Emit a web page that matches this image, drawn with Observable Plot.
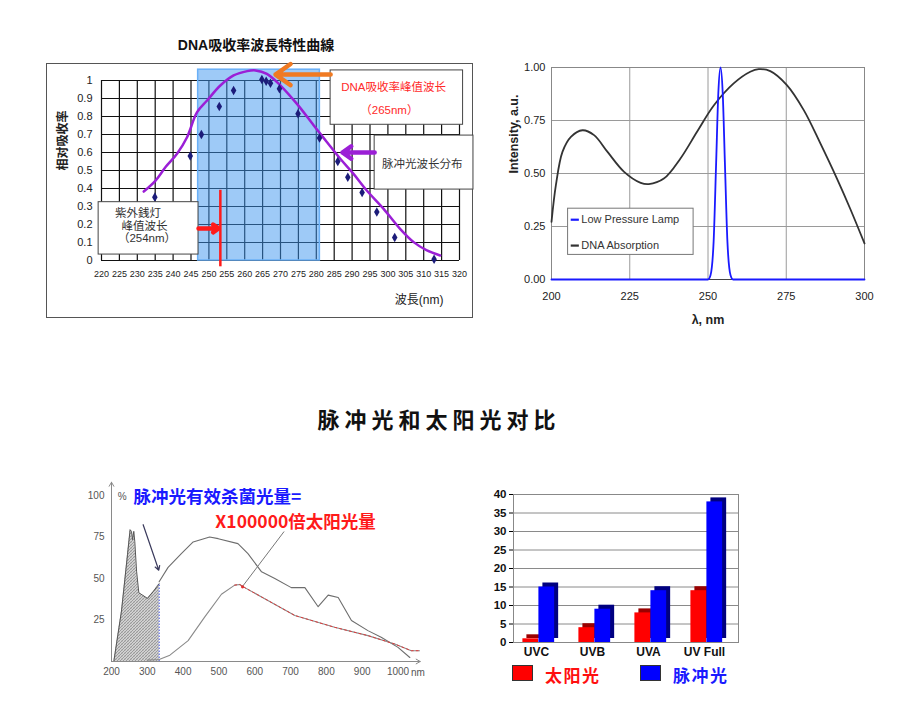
<!DOCTYPE html>
<html><head><meta charset="utf-8">
<script src="https://cdn.jsdelivr.net/npm/d3@7"></script>
<script src="https://cdn.jsdelivr.net/npm/@observablehq/plot@0.6"></script>
<style>
body{margin:0;background:#fff;}
#root{position:relative;width:899px;height:710px;overflow:hidden;font-family:"Liberation Sans","Noto Sans CJK SC",sans-serif;}
.t{position:absolute;white-space:nowrap;line-height:1;}
</style></head><body><div id="root"></div>
<script>
// ===== Chart 1: DNA吸收率波長特性曲線 =====
const c1XTicks = [220,225,230,235,240,245,250,255,260,265,270,275,280,285,290,295,300,305,310,315,320];
const c1YTicks = [0,0.1,0.2,0.3,0.4,0.5,0.6,0.7,0.8,0.9,1];
const c1CurveX = [231.8,235.1,237.9,241.1,243.9,246.7,249.5,253.2,256.9,260.7,263,266.2,270,274.6,279.3,283,286.7,290.4,294.1,298.8,303.4,307.2,310.9,314.6];
const c1CurveY = [0.383,0.444,0.519,0.593,0.685,0.824,0.889,0.972,1.028,1.052,1.056,1.037,0.972,0.870,0.750,0.657,0.565,0.481,0.389,0.287,0.176,0.102,0.056,0.028];
const c1DotX = [234.9,244.8,247.9,252.9,256.9,264.8,266.0,267.2,269.7,274.9,280.9,286.0,288.8,292.8,296.9,301.9,312.9];
const c1DotY = [0.352,0.581,0.700,0.856,0.944,1.006,0.996,0.985,0.954,0.815,0.681,0.550,0.463,0.378,0.269,0.128,0.007];
const c1BandX = [247, 281];
const c1BandTop = 1.06;
const c1LampPeak = 253.2;
const c1BoxX1 = [219.2, 284.0, 296.3];
const c1BoxX2 = [247.1, 321.0, 323.9];
const c1BoxY1 = [0.033, 0.754, 0.394];
const c1BoxY2 = [0.324, 1.056, 0.694];
const c1NoteText = ["紫外銭灯", "峰值波长", "（254nm）", "DNA吸收率峰值波长", "（265nm）", "脉冲光波长分布"];
const c1NoteX = [230.2, 232, 232.7, 301.6, 300.4, 309.6];
const c1NoteY = [0.26, 0.19, 0.122, 0.96, 0.833, 0.537];
const c1NoteColor = ["#333", "#333", "#333", "#ff2a2a", "#ff2a2a", "#333"];
const c1ArrowX1 = [284.0, 296.3, 247.1];
const c1ArrowX2 = [268.6, 287.3, 252.7];
const c1ArrowY = [1.033, 0.6, 0.178];
const c1ArrowColor = ["#f07a22", "#9b1fd6", "#ff1a1a"];

// ===== Chart 2: Low pressure lamp vs DNA absorption =====
const c2XTicks = [200,225,250,275,300];
const c2YTicks = [0,0.25,0.5,0.75,1];
const dnaX = [200,201.4,203.5,206.2,209.9,213.6,217.9,223.2,228.5,231.1,235.9,241.2,246.5,251.9,258.2,263.5,266.2,269.9,275.2,280.6,285.9,291.2,295.4,300];
const dnaY = [0.272,0.445,0.602,0.673,0.704,0.681,0.602,0.508,0.456,0.450,0.476,0.571,0.697,0.822,0.925,0.980,0.992,0.983,0.917,0.799,0.642,0.476,0.335,0.170];
const lampX = [200,250,250.8,251.8,252.6,253.3,254,254.7,255.4,256.2,257.2,258,300];
const lampY = [0,0,0.02,0.18,0.55,0.88,1.0,0.88,0.55,0.18,0.02,0,0];
const c2LegendLabels = ["Low Pressure Lamp", "DNA Absorption"];
const c2LegendColors = ["#1a1aff", "#333333"];
const c2LegendY = [0.282, 0.160];
const c2LegendBox = {x1: 205.3, x2: 245.4, y1: 0.116, y2: 0.334};
const c2LegendLineX = [206.3, 208.9];

// ===== Chart 3: pulse light vs sunlight spectrum =====
const c3XTicks = [200,300,400,500,600,700,800,900,1000];
const c3YTicks = [25,50,75,100];
const pulseX = [200,206.5,227.9,244.7,252,255.8,258.6,262.3,265,270,276.3,286.5,300.5,316,333];
const pulseY = [0,0,30.4,64.4,79.4,78.4,73.4,78.4,72.4,54.4,41.4,40,38,42,46.8];
const sunUpperX = [333,358,395,428,474,498,553,581,619,656,702,740,777,805,833,870,916,953,1000,1033];
const sunUpperY = [48,56.7,65,72,75,74,71,65,54,50,44.5,44.5,33,40,38.5,24.7,18.6,14.6,8.5,2.4];
const sunLowerX = [300,333,363,414,460,507,544,558,572,619,712,823,916,991,1037,1060];
const sunLowerY = [0.8,1.2,3.8,12.6,26.7,40.5,46,46.4,44.5,38.9,27.7,20.6,15.6,10.5,6.5,6.5];

// ===== Chart 4: bar comparison =====
const c4Cats = ["UVC","UVB","UVA","UV Full"];
const c4Sun = [1,4,8,14];
const c4Pulse = [15,9,14,38];
const c4YTicks = [0,5,10,15,20,25,30,35,40];
const c4Series = ["太阳光","脉冲光"];

const root = document.getElementById("root");
function place(el, left, top) {
  el.style.position = "absolute"; el.style.left = left + "px"; el.style.top = top + "px";
  root.appendChild(el); return el;
}
function text(str, cx, cy, css, anchor) {
  const d = document.createElement("div");
  d.className = "t"; d.textContent = str;
  Object.assign(d.style, css);
  d.style.left = cx + "px"; d.style.top = cy + "px";
  d.style.transform = anchor === "start" ? "translate(0,-50%)" : "translate(-50%,-50%)";
  root.appendChild(d); return d;
}
const zip2 = (xs, ys) => xs.map((x, i) => ({x, y: ys[i]}));

// ---------- Chart 1 ----------
text("DNA吸收率波長特性曲線", 256, 45, {fontSize: "14px", fontWeight: "bold", fontFamily: "Liberation Sans, Noto Sans CJK JP, sans-serif", color: "#111"});
const c1Curve = zip2(c1CurveX, c1CurveY);
const c1Dots = zip2(c1DotX, c1DotY);
const c1Band = [{x1: c1BandX[0], x2: c1BandX[1], y1: 0, y2: c1BandTop}];
const c1Boxes = c1BoxX1.map((x1, i) => ({x1, x2: c1BoxX2[i], y1: c1BoxY1[i], y2: c1BoxY2[i]}));
const c1Notes = c1NoteText.map((t, i) => ({t, x: c1NoteX[i], y: c1NoteY[i], c: c1NoteColor[i]}));
const c1Arrows = c1ArrowX1.map((x1, i) => ({x1, x2: c1ArrowX2[i], y: c1ArrowY[i], c: c1ArrowColor[i]}));
const c1 = Plot.plot({
  width: 427, height: 255, marginLeft: 55, marginRight: 14, marginTop: 17, marginBottom: 58,
  style: {fontFamily: "Liberation Sans, Noto Sans CJK JP, sans-serif", background: "transparent", overflow: "visible"},
  x: {domain: [220, 320], axis: null},
  y: {domain: [0, 1], axis: null},
  color: {type: "identity"},
  marks: [
    Plot.ruleX(c1XTicks, {y1: 0, y2: 1, stroke: "#111", strokeWidth: 1.2}),
    Plot.ruleY(c1YTicks, {x1: 220, x2: 320, stroke: "#111", strokeWidth: 1.2}),
    Plot.rect(c1Band, {x1: "x1", x2: "x2", y1: "y1", y2: "y2", fill: "#3d95f0", fillOpacity: 0.5, stroke: "#6ab0f7", strokeWidth: 1.5}),
    Plot.line(c1Curve, {x: "x", y: "y", stroke: "#9b1fd6", strokeWidth: 2.5, curve: "catmull-rom"}),
    Plot.dot(c1Dots, {x: "x", y: "y", symbol: "diamond", fill: "#1c1c7a", r: 2.9}),
    Plot.rect(c1Boxes, {x1: "x1", x2: "x2", y1: "y1", y2: "y2", fill: "white", stroke: "#444", strokeWidth: 1}),
    Plot.ruleX([c1LampPeak], {y1: -0.035, y2: 0.39, stroke: "#ff1a1a", strokeWidth: 2.5}),
    Plot.arrow(c1Arrows, {x1: "x1", x2: "x2", y1: "y", y2: "y", stroke: "c", strokeWidth: 4.5, headLength: 10, headAngle: 70}),
    Plot.text(c1Notes, {x: "x", y: "y", text: "t", fill: "c", fontSize: 11.5}),
    Plot.axisX({ticks: c1XTicks, tickSize: 0, tickPadding: 10, fontSize: 9, fill: "#222"}),
    Plot.axisY({ticks: c1YTicks, tickSize: 0, tickPadding: 9, fontSize: 11, fill: "#222", tickFormat: d => String(d)}),
    Plot.text(["相对吸收率"], {frameAnchor: "left", rotate: -90, dx: -38, fontSize: 12, fontWeight: "bold", fill: "#222"}),
    Plot.text(["波長(nm)"], {frameAnchor: "bottom-right", dx: -16, dy: 43, fontSize: 12, fill: "#222"})
  ]
});
const c1Frame = document.createElement("div");
Object.assign(c1Frame.style, {width: "427px", height: "255px", border: "1px solid #555", boxSizing: "border-box"});
place(c1Frame, 46, 63);
place(c1, 46, 63);

// ---------- Chart 2 ----------
const dna = zip2(dnaX, dnaY);
const lamp = zip2(lampX, lampY);
const c2Leg = c2LegendLabels.map((l, i) => ({l, c: c2LegendColors[i], y: c2LegendY[i]}));
const c2 = Plot.plot({
  width: 380, height: 290, marginLeft: 51, marginRight: 16, marginTop: 17, marginBottom: 61,
  style: {fontFamily: "Liberation Sans, sans-serif", background: "transparent", overflow: "visible"},
  x: {domain: [200, 300], axis: null},
  y: {domain: [0, 1], axis: null},
  color: {type: "identity"},
  marks: [
    Plot.gridX(c2XTicks, {stroke: "#9a9a9a", strokeOpacity: 1}),
    Plot.gridY(c2YTicks, {stroke: "#9a9a9a", strokeOpacity: 1}),
    Plot.frame({stroke: "#888"}),
    Plot.ruleY([0], {stroke: "#444"}),
    Plot.line(dna, {x: "x", y: "y", stroke: "#333", strokeWidth: 1.8, curve: "catmull-rom"}),
    Plot.line(lamp, {x: "x", y: "y", stroke: "#1a1aff", strokeWidth: 1.8, curve: "monotone-x"}),
    Plot.rect([c2LegendBox], {x1: "x1", x2: "x2", y1: "y1", y2: "y2", fill: "white", stroke: "#777"}),
    Plot.ruleY(c2Leg, {y: "y", x1: c2LegendLineX[0], x2: c2LegendLineX[1], stroke: "c", strokeWidth: 2.2}),
    Plot.text(c2Leg, {y: "y", x: c2LegendLineX[1], dx: 2, text: "l", textAnchor: "start", fontSize: 11, fill: "#333", fontFamily: "Liberation Sans Narrow, Liberation Sans, sans-serif"}),
    Plot.axisX({ticks: c2XTicks, tickSize: 0, tickPadding: 13, fontSize: 11, fill: "#222"}),
    Plot.axisY({ticks: c2YTicks, tickSize: 0, tickPadding: 6, fontSize: 11, fill: "#222", tickFormat: d3.format(".2f")}),
    Plot.text(["Intensity, a.u."], {frameAnchor: "left", rotate: -90, dx: -38, fontSize: 12.5, fontWeight: "bold", fill: "#222"}),
    Plot.text(["λ, nm"], {frameAnchor: "bottom", dy: 44, fontSize: 12.5, fontWeight: "bold", fill: "#222"})
  ]
});
place(c2, 500, 50);

// ---------- Middle title ----------
text("脉冲光和太阳光对比", 439, 418, {fontSize: "22px", fontWeight: "bold", letterSpacing: "5px", fontFamily: "Noto Sans CJK SC, sans-serif", color: "#111"});

// ---------- Chart 3 ----------
const pulse = zip2(pulseX, pulseY);
const sunUpper = zip2(sunUpperX, sunUpperY);
const sunLower = zip2(sunLowerX, sunLowerY);
const pulseEnd = pulseX[pulseX.length - 1];
const pulseEndY = pulseY[pulseY.length - 1];
const c3 = Plot.plot({
  width: 350, height: 220, marginLeft: 31, marginRight: 11, marginTop: 25, marginBottom: 29,
  style: {fontFamily: "Liberation Sans, Noto Sans CJK SC, sans-serif", background: "transparent", overflow: "visible"},
  x: {domain: [200, 1060], axis: null},
  y: {domain: [0, 100], axis: null},
  marks: [
    Plot.areaY(pulse, {x: "x", y: "y", fill: "url(#hatch)"}),
    Plot.line(pulse, {x: "x", y: "y", stroke: "#555", strokeWidth: 1}),
    Plot.ruleX([pulseEnd], {y1: 0, y2: pulseEndY, stroke: "#3344cc", strokeDasharray: "1.5,1.5"}),
    Plot.ruleY([0], {x1: 200, x2: pulseEnd, stroke: "#3344cc", strokeDasharray: "1.5,1.5"}),
    Plot.line(sunUpper, {x: "x", y: "y", stroke: "#6d6d6d", strokeWidth: 1.1}),
    Plot.line(sunLower, {x: "x", y: "y", stroke: "#8a8a8a", strokeWidth: 1.1}),
    Plot.line(sunLower.filter(d => d.x >= 544), {x: "x", y: "y", stroke: "#e03a3a", strokeWidth: 1, strokeDasharray: "2,3"}),
    Plot.arrow([{x1: 200, y1: 0, x2: 1062, y2: 0}, {x1: 200, y1: 0, x2: 200, y2: 108}], {x1: "x1", y1: "y1", x2: "x2", y2: "y2", stroke: "#8a8a8a", strokeWidth: 1, headLength: 7}),
    Plot.arrow([{x1: 288.4, y1: 82.4, x2: 332, y2: 55}], {x1: "x1", y1: "y1", x2: "x2", y2: "y2", stroke: "#3a3a5c", strokeWidth: 1.2, headLength: 6}),
    Plot.link([{x1: 681.9, y1: 78.3, x2: 564.7, y2: 44.9}], {x1: "x1", y1: "y1", x2: "x2", y2: "y2", stroke: "#777", strokeWidth: 1}),
    Plot.dot([{x: 566, y: 45}], {x: "x", y: "y", r: 1.6, fill: "#e03030"}),
    Plot.axisX({ticks: c3XTicks, tickSize: 0, tickPadding: 6, fontSize: 10, fill: "#555", tickFormat: d => String(d)}),
    Plot.axisY({ticks: c3YTicks, tickSize: 0, tickPadding: 7, fontSize: 10, fill: "#555"}),
    Plot.text(["nm"], {x: 1000, y: 0, dx: 13, dy: 11.5, textAnchor: "start", fontSize: 10, fill: "#555"}),
    Plot.text(["%"], {x: 229.9, y: 99.4, fontSize: 10, fill: "#555"}),
    Plot.text(["脉冲光有效杀菌光量="], {x: 261.4, y: 98.8, textAnchor: "start", fontSize: 17.5, fontWeight: "bold", fill: "#1a1aff", fontFamily: "Noto Sans CJK SC, sans-serif"}),
    Plot.text(["X100000倍太阳光量"], {x: 490, y: 83.9, textAnchor: "start", fontSize: 17.5, fontWeight: "bold", fill: "#ff1a1a", fontFamily: "Noto Sans CJK SC, sans-serif"})
  ]
});
d3.select(c3).insert("defs", ":first-child").html(
  '<pattern id="hatch" width="3" height="3" patternUnits="userSpaceOnUse">' +
  '<rect width="3" height="3" fill="#d2d2d2"/>' +
  '<path d="M0,3 L3,0 M-1,1 L1,-1 M2,4 L4,2" stroke="#555" stroke-width="0.45"/>' +
  '<path d="M0,0 L3,3" stroke="#999" stroke-width="0.3"/></pattern>');
place(c3, 80, 470);

// ---------- Chart 4 ----------
const c4Rows = c4Cats.map((cat, i) => ({cat, sun: c4Sun[i], pulse: c4Pulse[i]}));
const c4 = Plot.plot({
  width: 280, height: 182, marginLeft: 33, marginRight: 22, marginTop: 14, marginBottom: 20,
  style: {fontFamily: "Liberation Sans, sans-serif", background: "transparent", overflow: "visible"},
  x: {domain: c4Cats, padding: 0, axis: null},
  y: {domain: [0, 40], axis: null},
  marks: [
    Plot.gridY(c4YTicks, {stroke: "#8a8a8a", strokeOpacity: 1}),
    Plot.frame({stroke: "#888"}),
    Plot.barY(c4Rows, {x: "cat", y: "sun", fill: "#9a0000", insetLeft: 8.4, insetRight: 31.85, dx: 4, dy: -4}),
    Plot.barY(c4Rows, {x: "cat", y: "sun", fill: "#ff0000", insetLeft: 8.4, insetRight: 31.85}),
    Plot.barY(c4Rows, {x: "cat", y: "pulse", fill: "#000080", insetLeft: 24.4, insetRight: 15.85, dx: 4, dy: -4}),
    Plot.barY(c4Rows, {x: "cat", y: "pulse", fill: "#0000ff", insetLeft: 24.4, insetRight: 15.85}),
    Plot.axisX({tickSize: 0, tickPadding: 5, fontSize: 12, fontWeight: "bold", fill: "#111", dx: -6, label: null}),
    Plot.axisY({ticks: c4YTicks, tickSize: 4, tickPadding: 3, fontSize: 11.5, fontWeight: "bold", fill: "#111", label: null})
  ]
});
place(c4, 480, 480);

// legend for chart 4
const legColors = ["#ff0000", "#0000ff"];
const legTextColors = ["#ff1010", "#1a1aff"];
const legBoxLeft = [512, 640];
c4Series.forEach((s, i) => {
  const b = document.createElement("div");
  Object.assign(b.style, {width: "21px", height: "16px", background: legColors[i], border: "1px solid #333", boxSizing: "border-box"});
  place(b, legBoxLeft[i], 665);
  text(s, legBoxLeft[i] + 33, 674, {fontSize: "17px", fontWeight: "bold", letterSpacing: "1.5px", color: legTextColors[i], fontFamily: "Noto Sans CJK SC, sans-serif"}, "start");
});
</script></body></html>
